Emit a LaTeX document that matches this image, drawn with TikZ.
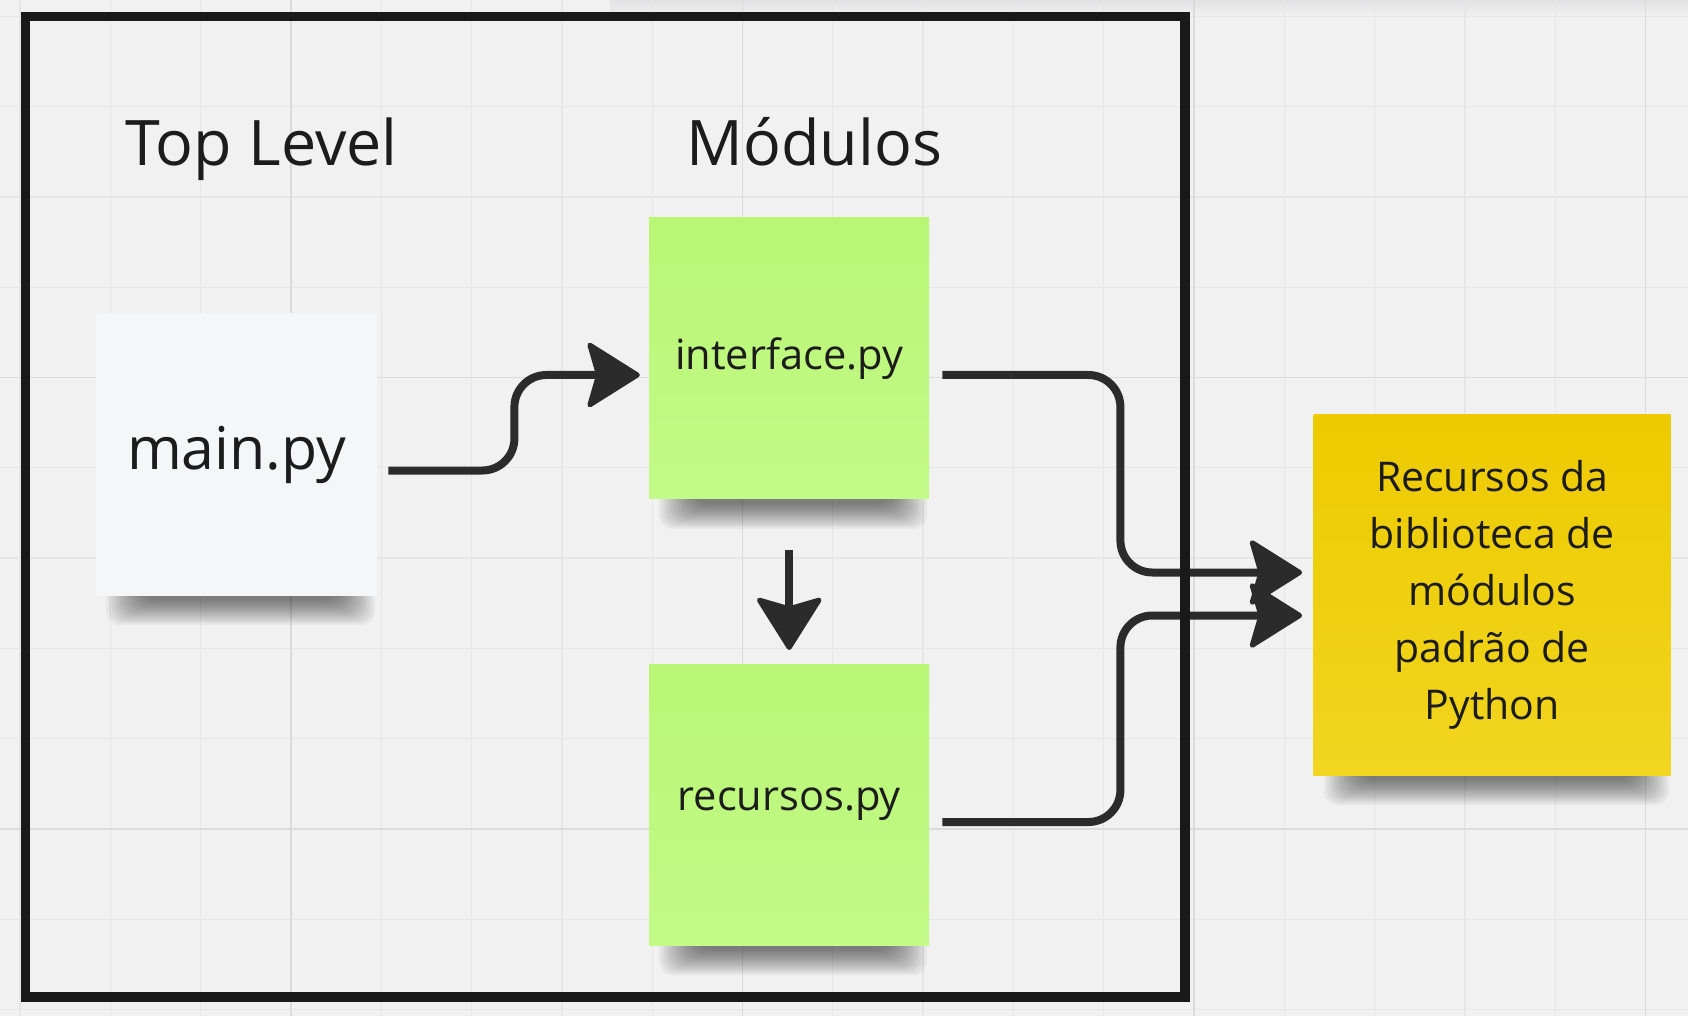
\documentclass[tikz,border=0pt]{standalone}
\usepackage{fontspec}
\setmainfont{Open Sans}
\usetikzlibrary{arrows.meta}

\definecolor{board}{HTML}{F1F1F1}
\definecolor{topbar}{HTML}{E2E2E4}
\definecolor{gridminor}{HTML}{E6E6E6}
\definecolor{gridmajor}{HTML}{DBDBDB}
\definecolor{framecol}{HTML}{191919}
\definecolor{wire}{HTML}{2B2B2B}
\definecolor{ink}{HTML}{1C1C1C}
\definecolor{paper}{HTML}{F5F6F8}
\definecolor{leafa}{HTML}{B9F674}
\definecolor{leafb}{HTML}{C3FA88}
\definecolor{golda}{HTML}{EDCB00}
\definecolor{goldb}{HTML}{F1D51F}

\begin{document}
\begin{tikzpicture}[x=0.5pt, y=-0.5pt,
  sticky/.style={minimum width=140pt, minimum height=140.5pt, inner sep=0pt, text=ink},
  conn/.style={line width=4pt, draw=wire, rounded corners=16pt,
    -{Stealth[length=28pt, width=35pt, inset=5pt, round, line width=2.5pt]}},
  heading/.style={anchor=base, text=ink, font=\fontsize{31.4}{38}\selectfont}]

\useasboundingbox (0,0) rectangle (1688,1016);
\fill[board] (0,0) rectangle (1688,1016);
\shade[top color=topbar, bottom color=board] (610,0) rectangle (1688,16);

% grid
\begin{scope}[line width=0.65pt]
\foreach \i in {0,...,18}
  \draw[gridminor] ({20.1+90.3*\i},0) -- ({20.1+90.3*\i},1016);
\foreach \j in {0,...,11}
  \draw[gridminor] (0,{16.3+90.3*\j}) -- (1688,{16.3+90.3*\j});
\foreach \i in {3,8,13,18}
  \draw[gridmajor] ({20.1+90.3*\i},0) -- ({20.1+90.3*\i},1016);
\foreach \j in {4,9}
  \draw[gridmajor] (0,{16.3+90.3*\j}) -- (1688,{16.3+90.3*\j});
\end{scope}

% shadows under the notes
\foreach \l/\r/\b in {96/377/595, 649/929/499, 649/929/945, 1314/1671/775}
  \foreach \k in {0,...,13}
    \fill[black, opacity=0.045, rounded corners=7pt]
      ({\l+10+2.8*\k},{\b-10}) rectangle ({\r-2-2.8*\k},{\b+30-1.9*\k});

\node[sticky, fill=paper, minimum width=140.5pt, minimum height=141pt,
  font=\fontsize{29.5}{36}\selectfont] (main) at (236.7,454.5) {main.py};
\node[sticky, top color=leafa, bottom color=leafb,
  font=\fontsize{20.8}{28.5}\selectfont] (iface) at (789.2,358.3) {interface.py};
\node[sticky, top color=leafa, bottom color=leafb,
  font=\fontsize{20.8}{28.5}\selectfont] (rec) at (789.2,804.5) {recursos.py};
\node[sticky, top color=golda, bottom color=goldb, minimum width=178.5pt,
  minimum height=180pt, align=center,
  font=\fontsize{20.5}{28.5}\selectfont] (std) at (1492.2,595)
  {Recursos da\\biblioteca de\\módulos\\padrão de\\Python};

\node[heading] (toplvl) at (261.5,165.4) {Top Level};
\node[heading] (mods) at (814.3,165.4) {Módulos};

\draw[conn] ([xshift=5.4pt, yshift=-8pt]main.east) -- ++(126,0)
  |- ([xshift=-4.5pt, yshift=-8.35pt]iface.west); %main-iface
\draw[conn] ([yshift=-25.5pt]iface.south) -- ([yshift=6.8pt]rec.north); %iface-rec
\draw[conn] ([xshift=6.4pt, yshift=-8.35pt]iface.east) -- ++(178,0)
  |- ([xshift=-5.6pt, yshift=11.25pt]std.west); %iface-std
\draw[conn] ([xshift=6.4pt, yshift=-8.75pt]rec.east) -- ++(178,0)
  |- ([xshift=-5.6pt, yshift=-10.25pt]std.west); %rec-std

\draw[framecol, line width=4.6pt] (25.5,16.5) rectangle (1185,997);

\end{tikzpicture}
\end{document}
